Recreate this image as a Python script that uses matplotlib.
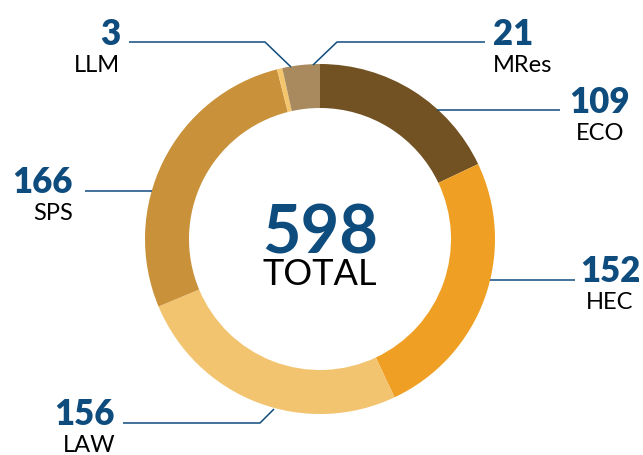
import matplotlib.pyplot as plt

# data
programs = ["ECO", "HEC", "LAW", "SPS", "LLM", "MRes"]
students = [109, 152, 156, 166, 3, 21]
total_label = "598"
colors = ["#725222", "#EFA024", "#F2C46F", "#C8913A", "#F3C66E", "#A98A5E"]

NAVY = "#0F4C7E"
W, H = 643, 456


def Y(y):
    # pixel row -> data y
    return H - y


plt.rcParams["font.family"] = ["Lato", "DejaVu Sans"]

fig = plt.figure(figsize=(W / 100, H / 100), dpi=100)
ax = fig.add_axes([0, 0, 1, 1])

ax.pie(students, colors=colors, startangle=90, counterclock=False,
       center=(320, Y(240)), radius=175, frame=True,
       wedgeprops=dict(width=44, linewidth=0))
ax.set_xlim(0, W)
ax.set_ylim(0, H)
ax.axis("off")

# label layout: number pos, align, leader polyline (pixels)
layout = {
    "LLM": ((120, 45), "right", [(129, 43), (265, 43), (291, 68)]),
    "MRes": ((493, 45), "left", [(313, 66), (337, 43), (485, 43)]),
    "ECO": ((600, 113), "center", [(437, 111), (560, 111)]),
    "HEC": ((610, 282), "center", [(490, 281), (575, 281)]),
    "SPS": ((73, 193), "right", [(85, 192), (152, 192)]),
    "LAW": ((115, 425), "right", [(123, 424), (260, 424), (274, 410)]),
}

for name, val in zip(programs, students):
    (x, y), ha, pts = layout[name]
    ax.text(x, Y(y), str(val), ha=ha, va="baseline", fontsize=25,
            fontweight="heavy", color=NAVY)
    ax.text(x, Y(y + 27), name, ha=ha, va="baseline", fontsize=17,
            color="black")
    ax.plot([p[0] for p in pts], [Y(p[1]) for p in pts], color=NAVY,
            lw=1.1, solid_capstyle="butt")

ax.text(320, Y(254), total_label, ha="center", va="baseline", fontsize=48,
        fontweight="bold", color=NAVY)
ax.text(320, Y(285), "TOTAL", ha="center", va="baseline", fontsize=26,
        color="black")

fig.savefig("out.png", dpi=100)
